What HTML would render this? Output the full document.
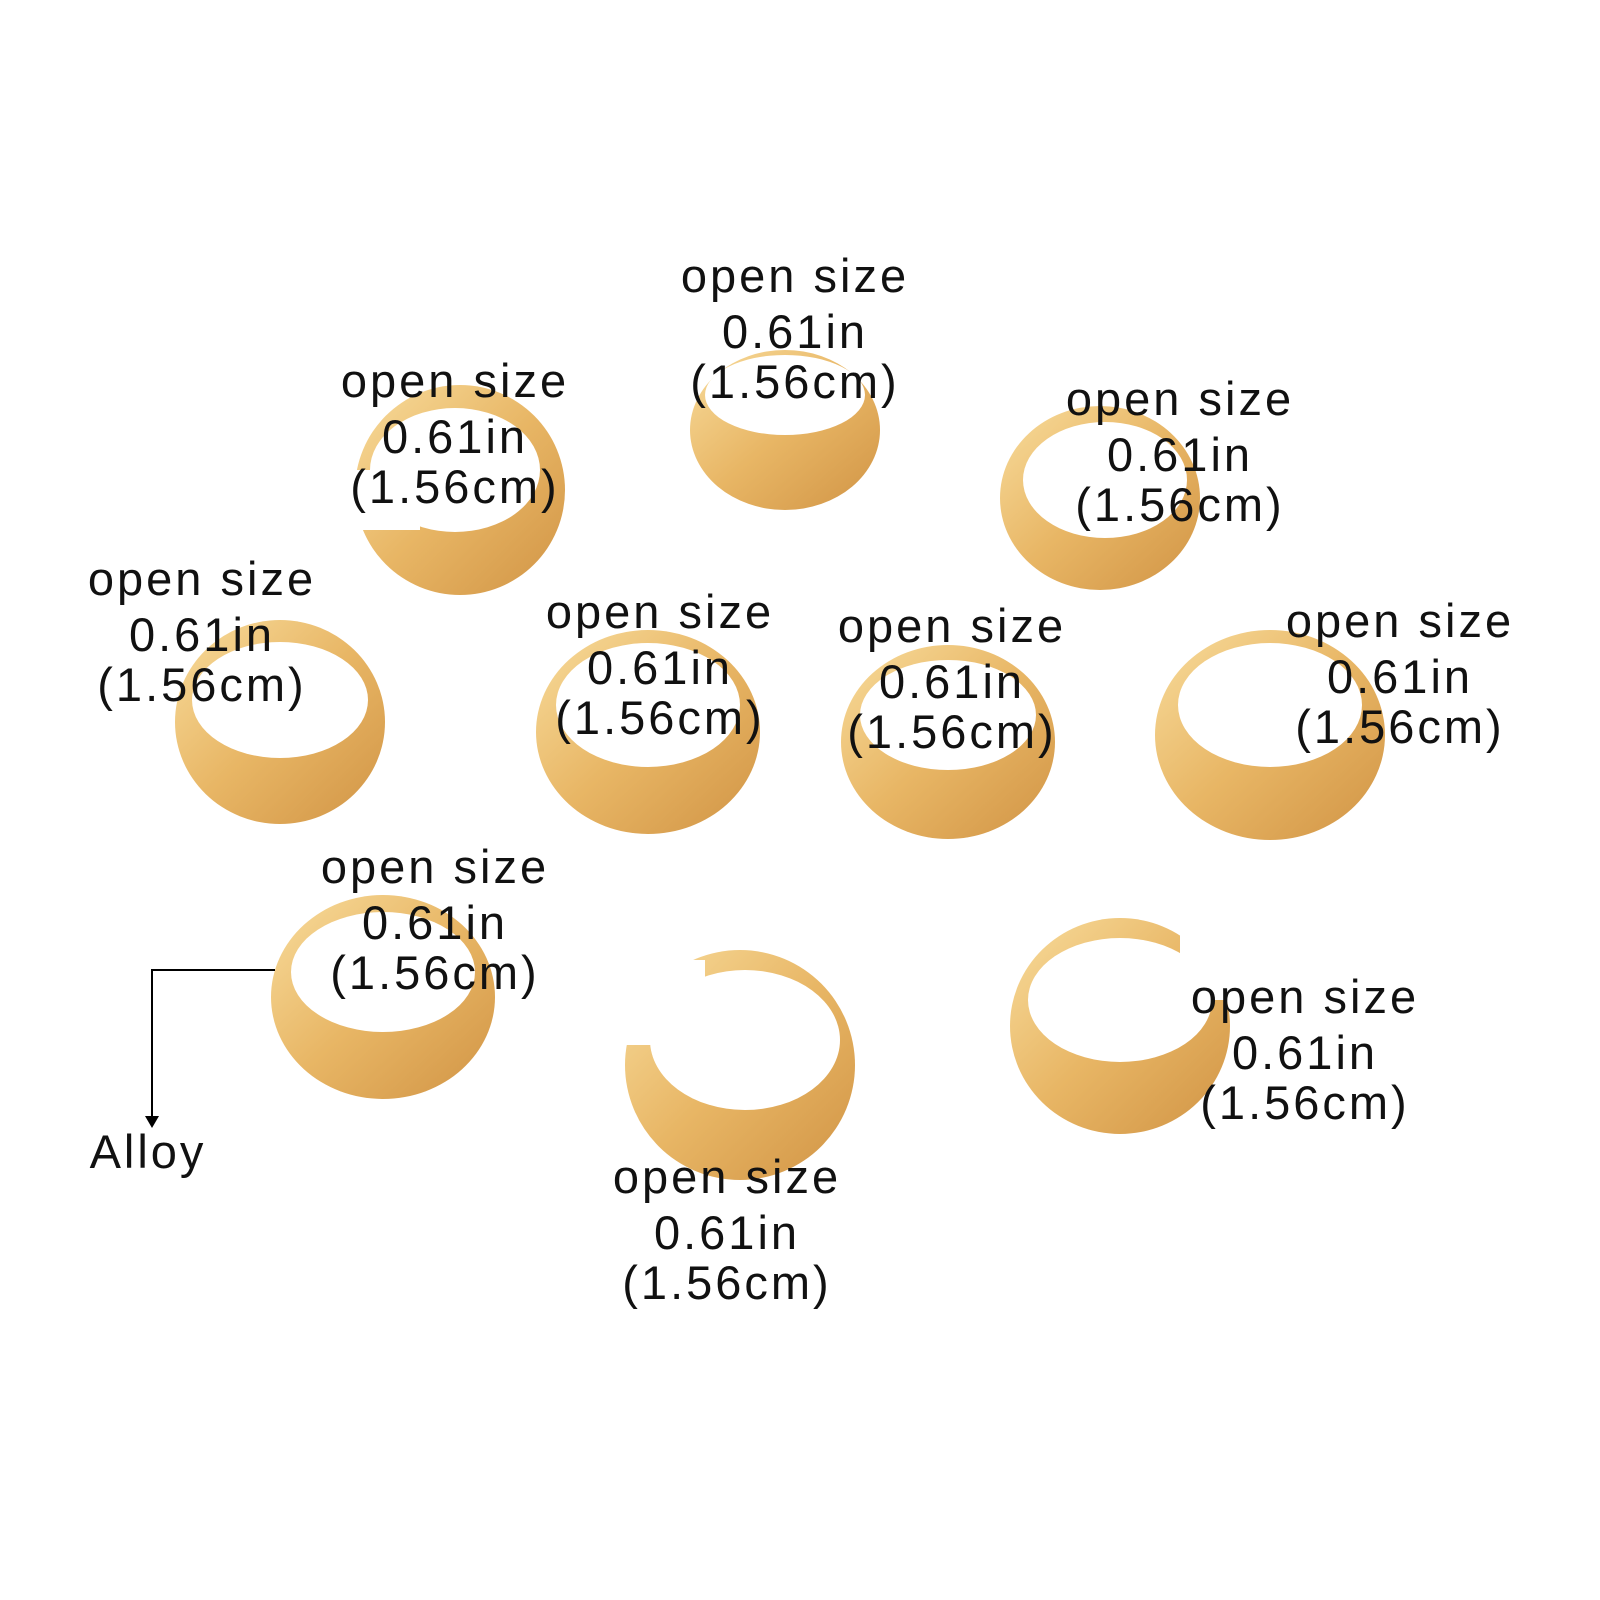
<!DOCTYPE html>
<html><head><meta charset="utf-8"><style>
html,body{margin:0;padding:0;background:#fff;width:1600px;height:1600px;overflow:hidden}
svg{position:absolute;left:0;top:0}
text{font-family:"Liberation Sans",sans-serif;font-size:47px;letter-spacing:3px;fill:#111;text-anchor:middle}
</style></head><body>
<svg width="1600" height="1600" viewBox="0 0 1600 1600">
<defs>
<linearGradient id="g" x1="0" y1="0" x2="1" y2="1">
<stop offset="0" stop-color="#f8dc9c"/><stop offset="0.5" stop-color="#e8b665"/><stop offset="1" stop-color="#d19445"/>
</linearGradient>
</defs>
<g fill="url(#g)">
<ellipse cx="460" cy="490" rx="105" ry="105"/>
<ellipse cx="785" cy="430" rx="95" ry="80"/>
<ellipse cx="1100" cy="498" rx="100" ry="92"/>
<ellipse cx="280" cy="722" rx="105" ry="102"/>
<ellipse cx="648" cy="732" rx="112" ry="102"/>
<ellipse cx="948" cy="742" rx="107" ry="97"/>
<ellipse cx="1270" cy="735" rx="115" ry="105"/>
<ellipse cx="383" cy="997" rx="112" ry="102"/>
<ellipse cx="740" cy="1065" rx="115" ry="115"/>
<ellipse cx="1120" cy="1026" rx="110" ry="108"/>
</g>
<g fill="#fff">
<ellipse cx="455" cy="470" rx="85" ry="62"/>
<ellipse cx="785" cy="395" rx="80" ry="40"/>
<ellipse cx="1105" cy="480" rx="82" ry="58"/>
<ellipse cx="280" cy="700" rx="88" ry="58"/>
<ellipse cx="648" cy="705" rx="92" ry="62"/>
<ellipse cx="948" cy="715" rx="88" ry="55"/>
<ellipse cx="1270" cy="705" rx="92" ry="62"/>
<ellipse cx="383" cy="972" rx="92" ry="60"/>
<ellipse cx="745" cy="1040" rx="95" ry="70"/>
<ellipse cx="1120" cy="1000" rx="92" ry="62"/>
<rect x="350" y="470" width="70" height="60"/>
<rect x="890" y="350" width="40" height="60"/>
<rect x="625" y="960" width="80" height="85"/>
<rect x="1180" y="930" width="60" height="70"/>
</g>
<g>
<text x="795" y="292">open size</text><text x="795" y="348">0.61in</text><text x="795" y="398">(1.56cm)</text>
<text x="455" y="397">open size</text><text x="455" y="453">0.61in</text><text x="455" y="503">(1.56cm)</text>
<text x="1180" y="415">open size</text><text x="1180" y="471">0.61in</text><text x="1180" y="521">(1.56cm)</text>
<text x="202" y="595">open size</text><text x="202" y="651">0.61in</text><text x="202" y="701">(1.56cm)</text>
<text x="660" y="628">open size</text><text x="660" y="684">0.61in</text><text x="660" y="734">(1.56cm)</text>
<text x="952" y="642">open size</text><text x="952" y="698">0.61in</text><text x="952" y="748">(1.56cm)</text>
<text x="1400" y="637">open size</text><text x="1400" y="693">0.61in</text><text x="1400" y="743">(1.56cm)</text>
<text x="435" y="883">open size</text><text x="435" y="939">0.61in</text><text x="435" y="989">(1.56cm)</text>
<text x="1305" y="1013">open size</text><text x="1305" y="1069">0.61in</text><text x="1305" y="1119">(1.56cm)</text>
<text x="727" y="1193">open size</text><text x="727" y="1249">0.61in</text><text x="727" y="1299">(1.56cm)</text>
<text x="148" y="1168">Alloy</text>
</g>
<path d="M275 970 H152 V1118" fill="none" stroke="#000" stroke-width="2"/>
<path d="M145 1116 L159 1116 L152 1128 Z" fill="#000"/>
</svg>
</body></html>
